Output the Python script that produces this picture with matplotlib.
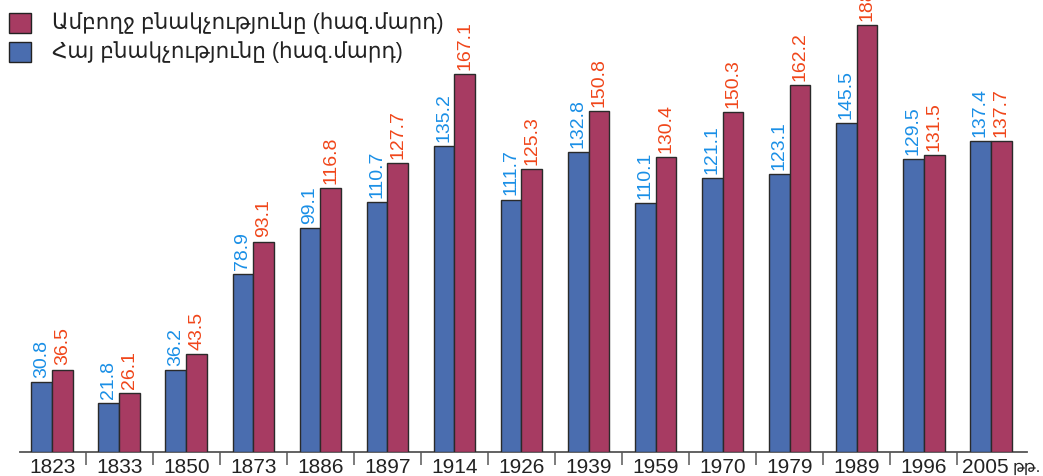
import matplotlib
matplotlib.use("Agg")
import matplotlib.pyplot as plt
from matplotlib.patches import Rectangle
import numpy as np

years = ["1823", "1833", "1850", "1873", "1886", "1897", "1914", "1926",
         "1939", "1959", "1970", "1979", "1989", "1996", "2005"]
armenian = [30.8, 21.8, 36.2, 78.9, 99.1, 110.7, 135.2, 111.7,
            132.8, 110.1, 121.1, 123.1, 145.5, 129.5, 137.4]
total = [36.5, 26.1, 43.5, 93.1, 116.8, 127.7, 167.1, 125.3,
         150.8, 130.4, 150.3, 162.2, 188.9, 131.5, 137.7]
legend_labels = ["Ամբողջ բնակչությունը (հազ.մարդ)", "Հայ բնակչությունը (հազ.մարդ)"]
year_suffix = "թթ."

FAM = ["Liberation Sans", "DejaVu Sans"]
plt.rcParams['font.family'] = FAM

BLUE = "#4a6daf"
MAROON = "#a73b62"
BLUE_T = "#1a8fe6"
RED_T = "#f0461a"

W, H = 1043, 476
fig = plt.figure(figsize=(W / 100, H / 100), dpi=100)
ax = fig.add_axes([20 / W, (H - 452) / H, (1027 - 20) / W, 452 / H])
ax.set_xlim(-0.48, 14.54)
ax.set_ylim(0, 200)
for s in ["top", "right", "left"]:
    ax.spines[s].set_visible(False)
ax.spines["bottom"].set_color("#555555")
ax.spines["bottom"].set_linewidth(1.3)
ax.set_yticks([])

x = np.arange(len(years))
bw = 0.31
off = 0.155
ax.bar(x - off, armenian, bw, color=BLUE, edgecolor="#2a2a2a", linewidth=1.0, zorder=3)
ax.bar(x + off, total, bw, color=MAROON, edgecolor="#2a2a2a", linewidth=1.0, zorder=3)

for xi, v in zip(x, armenian):
    ax.annotate(f"{v:.1f}", (xi - off, v), xytext=(0, 3), textcoords="offset points",
                rotation=90, ha="center", va="bottom", color=BLUE_T, fontsize=14,
                annotation_clip=False)
for xi, v in zip(x, total):
    ax.annotate(f"{v:.1f}", (xi + off, v), xytext=(0, 3), textcoords="offset points",
                rotation=90, ha="center", va="bottom", color=RED_T, fontsize=14,
                annotation_clip=False)

# tick labels (last one written together with the suffix)
ax.set_xticks(x)
ax.set_xticklabels(years[:-1] + [""], fontsize=15, color="#222222")
ax.tick_params(axis="x", which="major", length=0, pad=4)
ax.set_xticks([xi + 0.5 for xi in x[:-1]], minor=True)
ax.tick_params(axis="x", which="minor", length=9, width=1.2, color="#666666")

ax.annotate(years[-1], (x[-1] - 0.43, 0), xytext=(0, -4),
            textcoords="offset points", ha="left", va="top", fontsize=15,
            color="#222222", annotation_clip=False)
ax.annotate(year_suffix, (x[-1] + 0.32, 0), xytext=(0, -6),
            textcoords="offset points", ha="left", va="top", fontsize=11.5,
            color="#222222", annotation_clip=False)

# legend
cols = [MAROON, BLUE]
ys = [13, 42]
for c, yy, lab in zip(cols, ys, legend_labels):
    fig.patches.append(Rectangle((9 / W, 1 - (yy + 20) / H), 22 / W, 20 / H,
                                 transform=fig.transFigure, facecolor=c,
                                 edgecolor="#222222", linewidth=1.0))
    fig.text(52 / W, 1 - (yy + 10) / H, lab, ha="left", va="center",
             fontsize=15.5, color="#222222")

fig.savefig("out.png", dpi=100)
